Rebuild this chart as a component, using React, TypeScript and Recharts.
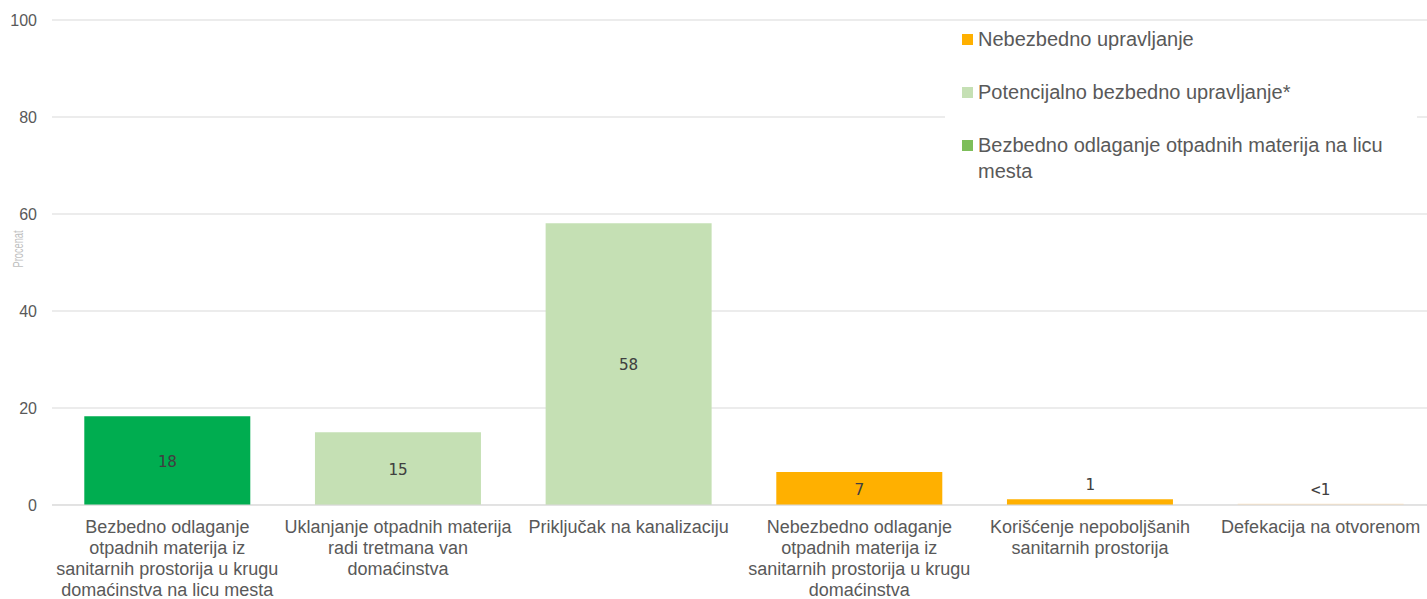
import { BarChart, Bar, XAxis, YAxis, CartesianGrid, Cell, LabelList } from "recharts";

const categories = [
  "Bezbedno odlaganje\notpadnih materija iz\nsanitarnih prostorija u krugu\ndomaćinstva na licu mesta",
  "Uklanjanje otpadnih materija\nradi tretmana van\ndomaćinstva",
  "Priključak na kanalizaciju",
  "Nebezbedno odlaganje\notpadnih materija iz\nsanitarnih prostorija u krugu\ndomaćinstva",
  "Korišćenje nepoboljšanih\nsanitarnih prostorija",
  "Defekacija na otvorenom",
];
const values = [18.3, 15, 58.1, 6.8, 1.2, 0.25];
const valueLabels = ["18", "15", "58", "7", "1", "<1"];
const barColors = ["#00AD50", "#C5E0B4", "#C5E0B4", "#FFB000", "#FFB000", "#FBE3C4"];
const yTicks = [0, 20, 40, 60, 80, 100];

const legendItems = ["Nebezbedno upravljanje", "Potencijalno bezbedno upravljanje*", "Bezbedno odlaganje otpadnih materija na licu\nmesta"];
const legendColors = ["#FFB000", "#C5E0B4", "#7DBE5A"];

const FONT = "'Liberation Sans', Arial, sans-serif";

const data = categories.map((c, i) => ({ name: c, value: values[i], label: valueLabels[i] }));

function XTick(props: any) {
  const { x, y, payload } = props;
  const lines = String(payload.value).split("\n");
  return (
    <text x={x} y={y} textAnchor="middle" fill="#595959" fontSize={18} fontFamily={FONT}>
      {lines.map((l, i) => (
        <tspan key={i} x={x} dy={i === 0 ? 20 : 21}>
          {l}
        </tspan>
      ))}
    </text>
  );
}

function ValueLabel(props: any) {
  const { x, y, width, height, index } = props;
  const v = values[index];
  const inside = v >= 5;
  const cy = inside ? y + height / 2 + 6 : y - 9;
  return (
    <text x={x + width / 2} y={cy} textAnchor="middle" fill="#404040" fontSize={16} fontFamily="'DejaVu Sans Mono', monospace">
      {valueLabels[index]}
    </text>
  );
}

function YLabel() {
  const cx = 23;
  const cy = 249;
  return (
    <text
      x={cx}
      y={cy}
      transform={`rotate(-90 ${cx} ${cy})`}
      textAnchor="middle"
      fill="#BFBFBF"
      fontSize={14}
      fontFamily={FONT}
      textLength={37}
      lengthAdjust="spacingAndGlyphs"
    >
      Procenat
    </text>
  );
}

function Legend() {
  return (
    <div
      style={{
        position: "absolute",
        left: 945,
        top: 26,
        width: 472,
        height: 164,
        background: "#fff",
        fontFamily: FONT,
        fontSize: 20,
        color: "#595959",
      }}
    >
      {legendItems.map((t, i) => (
        <div key={i} style={{ position: "absolute", left: 17, top: i * 53, display: "flex", alignItems: "flex-start" }}>
          <span style={{ display: "inline-block", width: 11, height: 11, background: legendColors[i], marginTop: 8, marginRight: 5 }} />
          <span style={{ whiteSpace: "pre", lineHeight: "26px" }}>{t}</span>
        </div>
      ))}
    </div>
  );
}

export default function App() {
  return (
    <div style={{ position: "absolute", left: 0, top: 0, width: 1427, height: 599, background: "#fff", overflow: "hidden" }}>
      <BarChart width={1436} height={599} data={data} margin={{ top: 20, right: 0, bottom: 0, left: 0 }} barCategoryGap="14%">
        <CartesianGrid vertical={false} stroke="#D9D9D9" />
        <XAxis dataKey="name" axisLine={{ stroke: "#D9D9D9" }} tickLine={false} height={94} interval={0} tick={<XTick />} />
        <YAxis
          domain={[0, 100]}
          ticks={yTicks}
          width={52}
          axisLine={false}
          tickLine={false}
          tickMargin={9}
          tick={{ fill: "#595959", fontSize: 16, fontFamily: FONT }}
          label={<YLabel />}
        />
        <Bar dataKey="value" isAnimationActive={false}>
          {data.map((d, i) => (
            <Cell key={i} fill={barColors[i]} />
          ))}
          <LabelList dataKey="label" content={<ValueLabel />} />
        </Bar>
      </BarChart>
      <Legend />
    </div>
  );
}
